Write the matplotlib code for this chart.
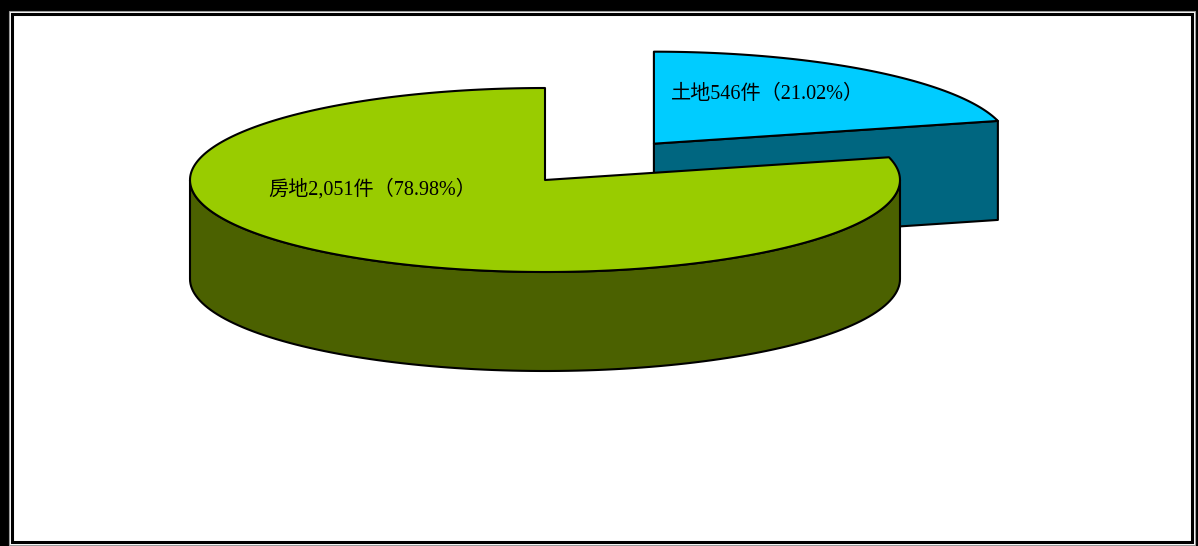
import numpy as np
import matplotlib
matplotlib.use("Agg")
import matplotlib.pyplot as plt
from matplotlib.patches import Polygon, Rectangle

# data (clockwise from 12 o'clock, like the source chart)
names = ["土地", "房地"]
counts = [546, 2051]
explode = [0.5, 0.0]
top_colors = ["#00CCFF", "#99CC00"]
side_colors = ["#006680", "#4B6100"]

W, H = 1198, 546
CX, CY = 545, 180          # pie centre on the page (px)
RX, RY, DEPTH = 355, 92, 99
EDGE = dict(edgecolor="black", linewidth=1.5, joinstyle="round")

plt.rcParams["font.family"] = ["Liberation Serif", "Noto Sans CJK TC", "DejaVu Sans"]

fig = plt.figure(figsize=(W / 100, H / 100), dpi=100)
ax = fig.add_axes([0, 0, 1, 1])
ax.set_xlim(0, W); ax.set_ylim(H, 0); ax.axis("off")

# double frame
ax.add_patch(Rectangle((0, 0), W, H, facecolor="black", edgecolor="none"))
ax.add_patch(Rectangle((8.5, 10.5), 1186, 534, facecolor="white", edgecolor="#9a9a9a", lw=0.8))
ax.add_patch(Rectangle((12, 13.5), 1180, 528, facecolor="white", edgecolor="black", lw=2.2))


def pt(cx, cy, th):
    return cx + RX * np.cos(th), cy - RY * np.sin(th)


def arc(cx, cy, a0, a1, dz=0.0, n=120):
    th = np.linspace(a0, a1, n)
    return np.column_stack([cx + RX * np.cos(th), cy - RY * np.sin(th) + dz])


total = sum(counts)
start = np.pi / 2
slices = []
for name, c, ex, tc, sc in zip(names, counts, explode, top_colors, side_colors):
    f = c / total
    a_hi = start
    a_lo = start - f * 2 * np.pi
    start = a_lo
    mid = (a_hi + a_lo) / 2
    cx = CX + ex * RX * np.cos(mid)
    cy = CY - ex * RY * np.sin(mid)
    slices.append((name, c, f, a_lo, a_hi, cx, cy, tc, sc))

# exploded (back) slice first, big one drawn over it
for name, c, f, a_lo, a_hi, cx, cy, tc, sc in slices:
    # radial cut face at a_lo, visible when the slice is small and faces us
    if (a_hi - a_lo) < np.pi and np.cos(a_lo - np.pi / 2) > 0:
        p = pt(cx, cy, a_lo)
        face = [(cx, cy), p, (p[0], p[1] + DEPTH), (cx, cy + DEPTH)]
        ax.add_patch(Polygon(face, closed=True, facecolor=sc, **EDGE))
    # outer wall: only the lower half of the rim (pi..2pi) is visible
    s0 = a_lo % (2 * np.pi)
    v0, v1 = max(s0, np.pi), min(s0 + (a_hi - a_lo), 2 * np.pi)
    if v1 > v0:
        top = arc(cx, cy, v0, v1)
        bot = arc(cx, cy, v1, v0, DEPTH)
        ax.add_patch(Polygon(np.vstack([top, bot]), closed=True, facecolor=sc, **EDGE))
    # top face
    ring = arc(cx, cy, a_lo, a_hi, n=240)
    ax.add_patch(Polygon(np.vstack([[cx, cy], ring]), closed=True, facecolor=tc, **EDGE))

# labels
lab_pos = {"土地": (768, 94), "房地": (372, 189)}
for name, c, f, *_ in slices:
    x, y = lab_pos[name]
    ax.text(x, y, f"{name}{c:,}件（{f * 100:.2f}%）", ha="center", va="center",
            fontsize=14.5, color="black")

fig.savefig("out.png", dpi=100)
